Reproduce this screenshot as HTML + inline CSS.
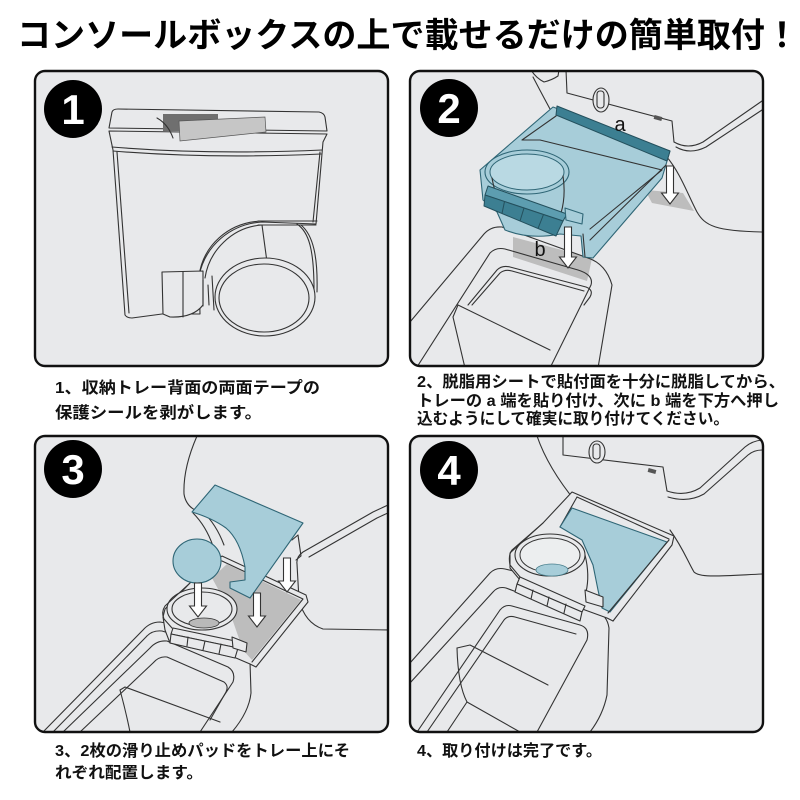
<!DOCTYPE html>
<html><head><meta charset="utf-8">
<style>
html,body{margin:0;padding:0;background:#fff;}
svg{display:block;}
.l{fill:none;stroke:#333;stroke-width:1.1;stroke-linejoin:round;stroke-linecap:round;}
.f{fill:#e8e9eb;stroke:#333;stroke-width:1.1;stroke-linejoin:round;}
.b{fill:#a7cdd9;stroke:#2f6676;stroke-width:1.1;stroke-linejoin:round;}
.bd{fill:#3c7f92;stroke:#24505d;stroke-width:1;stroke-linejoin:round;}
.bt{fill:#5d9db0;stroke:#24505d;stroke-width:1;stroke-linejoin:round;}
.g{fill:#bdbdbd;stroke:none;}
.ar{fill:#fff;stroke:#333;stroke-width:1.1;stroke-linejoin:miter;}
.cap{font-family:"Liberation Sans","Noto Sans CJK JP",sans-serif;font-size:16px;font-weight:bold;fill:#111;}
.num{font-family:"Liberation Sans",sans-serif;font-size:42px;font-weight:bold;fill:#fff;}
</style></head><body>
<svg width="800" height="800" viewBox="0 0 800 800" xmlns="http://www.w3.org/2000/svg">
<defs>
<clipPath id="c1"><rect x="35" y="71" width="353" height="295" rx="10"/></clipPath>
<clipPath id="c2"><rect x="410" y="71" width="353" height="295" rx="10"/></clipPath>
<clipPath id="c3"><rect x="35" y="436" width="353" height="296" rx="10"/></clipPath>
<clipPath id="c4"><rect x="410" y="436" width="353" height="296" rx="10"/></clipPath>
</defs>
<rect width="800" height="800" fill="#fff"/>

<!-- Title -->
<text x="17" y="47" font-family="'Liberation Sans','Noto Sans CJK JP',sans-serif" font-size="34" font-weight="bold" fill="#000" textLength="782" lengthAdjust="spacingAndGlyphs">コンソールボックスの上で載せるだけの簡単取付！</text>

<!-- ========== PANEL 1 ========== -->
<g clip-path="url(#c1)">
<rect x="35" y="71" width="353" height="295" fill="#e8e9eb"/>
<path class="f" d="M109,128 L112,112 Q113,109 118,109 L319,112 Q324,113 325,117 L327,131 Z"/>
<path class="f" d="M109,131 L327,134 L323,142 L316,224 L262,222 C230,224 205,246 199,276 L200,314 L162,314 L132,318 Q127,318 125,315 L113,150 Z"/>
<path class="l" d="M112,147 Q210,155 322,150"/>
<path class="l" d="M113,151 Q210,159 321,154"/>
<path class="l" d="M117,152 L129,313"/>
<path class="l" d="M320,152 L313,222"/>
<path class="l" d="M258,221 L317,221 M258,225 L316,225"/>
<path class="l" d="M199,276 C203,246 228,222 262,221"/>
<path class="l" d="M205,278 C209,251 232,227 262,225"/>
<path class="l" d="M262,225 L267,262"/>
<path class="l" d="M297,224 C309,232 314,250 314,290"/>
<path class="l" d="M301,225 C313,235 318,256 317,292"/>
<ellipse class="f" cx="265" cy="297" rx="50" ry="39"/>
<ellipse class="l" cx="264" cy="298" rx="45" ry="34"/>
<path class="f" d="M162,272 L203,271 L203,305 Q193,318 170,317 L163,314 Z"/>
<path class="l" d="M183,272 L183,317"/>
<path class="l" d="M203,280 L203,306 M208,285 L209,305 M212,276 L214,310"/>
<polygon points="163,114 218,114 218,131 163,131" fill="#6f6f6f"/>
<path d="M179,121 L265,117 L266,132 L180,141 Z" fill="#c6c6c6" stroke="#555" stroke-width="0.7"/>
<path class="l" d="M157,118 Q168,124 173,138" stroke="#555"/>
</g>
<rect x="35" y="71" width="353" height="295" rx="10" fill="none" stroke="#111" stroke-width="2.4"/>
<circle cx="73" cy="109" r="29" fill="#000"/>
<text class="num" x="73" y="124" text-anchor="middle">1</text>

<!-- ========== PANEL 2 ========== -->
<g clip-path="url(#c2)">
<rect x="410" y="71" width="353" height="295" fill="#e8e9eb"/>
<path class="l" d="M531,70 Q536,78 544,82 Q552,80 558,76 L559,70"/>
<path class="l" d="M533,77 Q545,100 556,120"/>
<path class="l" d="M566,70 L567,93 L672,121 L674,142"/>
<path class="l" d="M674,142 Q688,150 703,142 L762,101"/>
<path class="l" d="M676,147 Q690,155 706,147 L762,110"/>
<path class="l" d="M666,156 C680,172 688,195 697,212 C705,226 716,231 762,232"/>
<ellipse class="f" cx="601" cy="100" rx="8" ry="12"/>
<rect class="l" x="597" y="91" width="7" height="17" rx="3"/>
<rect x="654" y="116" width="8" height="4" fill="#555" transform="rotate(15 658 118)"/>
<polygon class="g" points="645,190 683,193 694,211 652,203"/>
<path class="g" d="M513,237 L592,258 Q590,268 587,281 L513,257 Z"/>
<path class="l" d="M410,322 L484,234 Q491,226 502,227 L588,258 Q606,264 612,285 L598,368"/>
<path class="l" d="M417,367 L490,253 Q496,247 505,249 L578,270 Q594,275 591,285 L550,368"/>
<path class="l" d="M468,305 L497,270 Q502,265 510,267 L586,287 Q594,290 590,297 L584,305"/>
<path class="l" d="M472,305 L500,273 Q505,269 512,271 L584,291"/>
<path class="l" d="M458,305 L453,317 L465,368"/>
<path class="l" d="M458,305 L550,350"/>
<!-- tray -->
<path class="b" d="M553,107 L670,151 L662,178 L593,258 L583,257 L581,236 L560,234 Q530,240 505,230 L497,212 L483,200 L480,170 Z"/>
<polygon class="bd" points="557,106 670,151 667,161 556,115"/>
<path class="l" stroke="#2f6676" d="M556,116 L522,140 L540,140 L662,170 L590,229"/>
<path class="l" stroke="#2f6676" d="M666,165 L590,240 M583,234 L585,257"/>
<ellipse class="b" cx="527" cy="172" rx="42" ry="22"/>
<ellipse cx="527" cy="172" rx="37" ry="18" fill="#b9d9e3" stroke="#2f6676" stroke-width="1"/>
<path class="l" stroke="#2f6676" d="M492,178 Q496,200 505,214 M563,176 Q566,196 561,213"/>
<polygon class="bt" points="488,186 567,214 563,221 485,195"/>
<polygon class="bd" points="485,195 563,221 556,236 484,206"/>
<path stroke="#24505d" stroke-width="1" d="M504.5,201.5 L502,213.5 M524,208 L520,221 M543.5,214.5 L538,228.5"/>
<polygon class="b" points="565,208 583,214 582,224 566,220"/>
<path class="ar" d="M666.5,166 h7 V193 h5 L670,204 L661.5,193 h5 Z"/>
<path class="ar" d="M564.5,227 h7 V257 h5 L568,268 L559.5,257 h5 Z"/>
<text x="620" y="131" font-family="'Liberation Sans',sans-serif" font-size="20" fill="#111" text-anchor="middle">a</text>
<text x="540" y="256" font-family="'Liberation Sans',sans-serif" font-size="20" fill="#111" text-anchor="middle">b</text>
</g>
<rect x="410" y="71" width="353" height="295" rx="10" fill="none" stroke="#111" stroke-width="2.4"/>
<circle cx="449" cy="108" r="29" fill="#000"/>
<text class="num" x="449" y="123" text-anchor="middle">2</text>

<!-- ========== PANEL 3 ========== -->
<g clip-path="url(#c3)">
<rect x="35" y="436" width="353" height="296" fill="#e8e9eb"/>
<path class="l" d="M197,436 Q183,468 184,494 Q186,507 199,512"/>
<path class="l" d="M193,513 Q206,526 213,546 L219,558"/>
<path class="l" d="M203,512 Q216,524 224,545"/>
<path class="l" d="M388,505 L373,512 L303,552 Q296,557 297,564 L299,600 Q305,623 323,629 L390,630"/>
<path class="l" d="M390,512 L377,518 L309,557"/>
<path class="l" d="M43,732 L143,630 Q150,622 160,622 L172,624"/>
<path class="l" d="M53,732 L146,637 Q152,630 162,631 L172,634"/>
<path class="l" d="M63,732 L150,648 Q157,640 167,641 L228,667 Q236,672 233,682 L200,732"/>
<path class="l" d="M80,732 L153,663 Q159,656 167,657 L224,682 Q229,686 226,692 L210,720"/>
<path class="l" d="M120,690 L125,687 L220,722"/>
<path class="l" d="M120,690 Q126,712 130,732"/>
<path class="l" d="M250,662 L251,693 Q249,712 232,732"/>
<!-- tray -->
<path class="f" d="M222,556 L306,595 L308,602 L256,667 L250,664 L236,658 L170,643 L165,630 L163,617 L165,609 L190,583 Z"/>
<path class="l" d="M222,561 L303,599 L252,662"/>
<polygon class="g" points="212,578 227,564 301,600 252,660 243,650 236,630 228,607"/>
<path class="l" d="M292,540 L298,535 L301,556 L296,560"/>
<ellipse class="f" cx="202" cy="609" rx="35" ry="21"/>
<ellipse class="l" cx="202" cy="609" rx="30" ry="17"/>
<ellipse cx="204" cy="623" rx="15" ry="5" fill="#b9b9b9" stroke="#333" stroke-width="0.8"/>
<path class="l" d="M190,583 L165,606 Q161,612 164,619 L172,628"/>
<polygon class="f" points="173,628 240,642 238,648 171,634"/>
<polygon class="f" points="171,634 238,648 235,658 170,643"/>
<path class="l" d="M188,637 L187,646 M205,641 L203,650 M221,644 L219,654"/>
<polygon class="f" points="232,637 247,643 246,652 233,648"/>
<ellipse class="b" cx="197" cy="561" rx="24" ry="22" stroke="#4a7f8d"/>
<path class="b" stroke="#4a7f8d" d="M215,485 L303,523 L250,598 L230,588 L230,582 L245,580 L245,567 Q240,540 226,528 Q212,518 192,512 Z"/>
<path class="ar" d="M194.5,583 h7 V606 h5 L198,617 L189.5,606 h5 Z"/>
<path class="ar" d="M253.5,593 h7 V616 h5 L257,627 L248.5,616 h5 Z"/>
<path class="ar" d="M283.5,558 h7 V581 h5 L287,592 L278.5,581 h5 Z"/>
</g>
<rect x="35" y="436" width="353" height="296" rx="10" fill="none" stroke="#111" stroke-width="2.4"/>
<circle cx="73" cy="469" r="29" fill="#000"/>
<text class="num" x="73" y="484" text-anchor="middle">3</text>

<!-- ========== PANEL 4 ========== -->
<g clip-path="url(#c4)">
<rect x="410" y="436" width="353" height="296" fill="#e8e9eb"/>
<path class="l" d="M537,436 Q548,468 576,502"/>
<path class="l" d="M563,436 L563,455 L663,467 L667,491"/>
<path class="l" d="M667,491 Q685,497 700,488 L745,447 Q752,441 762,440"/>
<path class="l" d="M668,497 Q688,503 704,494 L748,455 Q754,450 762,450"/>
<path class="l" d="M670,530 C683,548 688,562 694,572 C700,578 720,576 762,574"/>
<ellipse class="f" cx="597" cy="452" rx="8" ry="11"/>
<rect class="l" x="593" y="444" width="7" height="15" rx="3"/>
<rect x="648" y="469" width="8" height="4" fill="#555" transform="rotate(15 652 471)"/>
<path class="l" d="M410,663 L490,573 Q496,567 505,569 L522,573"/>
<path class="l" d="M410,683 L493,592 Q498,586 506,588 L522,594"/>
<path class="l" d="M596,611 Q607,615 609,628 L607,695 Q603,715 590,732"/>
<path class="l" d="M417,732 L500,610 Q505,604 512,606 L580,625 Q590,628 587,640 L537,732"/>
<path class="l" d="M427,732 L504,620 Q508,615 515,617 L576,634"/>
<path class="l" d="M457,648 L470,645 L548,685"/>
<path class="l" d="M457,648 Q458,685 467,702 L447,732"/>
<path class="l" d="M467,702 L520,732"/>
<path class="l" d="M613,621 L630,597"/>
<!-- tray -->
<path class="f" d="M572,492 L674,536 L672,545 L613,621 L607,618 L585,610 L520,580 L510,568 L510,553 L543,523 Z"/>
<path class="l" d="M577,497 L669,539 M577,497 L560,527"/>
<polygon class="b" points="572,508 667,542 610,612 602,608 598,590 593,565 582,540 560,527"/>
<path class="l" d="M669,540 L608,613"/>
<ellipse class="f" cx="550" cy="555" rx="35" ry="21"/>
<ellipse cx="550" cy="555" rx="30" ry="17" fill="#eceeef" stroke="#333" stroke-width="1"/>
<ellipse cx="552" cy="570" rx="16" ry="6" fill="#a7cdd9" stroke="#4a7f8d" stroke-width="0.8"/>
<path class="l" d="M543,523 L512,550 Q508,555 510,565 L520,577"/>
<path class="l" d="M585,555 Q590,575 586,592"/>
<polygon class="f" points="520,577 585,606 582,612 517,584"/>
<polygon class="f" points="517,584 582,612 580,621 515,592"/>
<path class="l" d="M533,590 L531,599 M549,597 L547,606 M566,604 L564,613"/>
<polygon class="f" points="585,590 603,597 603,607 586,602"/>
</g>
<rect x="410" y="436" width="353" height="296" rx="10" fill="none" stroke="#111" stroke-width="2.4"/>
<circle cx="449" cy="470" r="29" fill="#000"/>
<text class="num" x="449" y="485" text-anchor="middle">4</text>

<!-- Captions -->
<text class="cap" x="55" y="393" textLength="265" lengthAdjust="spacingAndGlyphs">1、収納トレー背面の両面テープの</text>
<text class="cap" x="55" y="418" textLength="207" lengthAdjust="spacingAndGlyphs">保護シールを剥がします。</text>

<text class="cap" x="417" y="387" textLength="368" lengthAdjust="spacingAndGlyphs">2、脱脂用シートで貼付面を十分に脱脂してから、</text>
<text class="cap" x="417" y="406" textLength="362" lengthAdjust="spacingAndGlyphs">トレーの a 端を貼り付け、次に b 端を下方へ押し</text>
<text class="cap" x="417" y="424" textLength="312" lengthAdjust="spacingAndGlyphs">込むようにして確実に取り付けてください。</text>

<text class="cap" x="55" y="756" textLength="295" lengthAdjust="spacingAndGlyphs">3、2枚の滑り止めパッドをトレー上にそ</text>
<text class="cap" x="55" y="778" textLength="148" lengthAdjust="spacingAndGlyphs">れぞれ配置します。</text>

<text class="cap" x="417" y="756" textLength="185" lengthAdjust="spacingAndGlyphs">4、取り付けは完了です。</text>
</svg>
</body></html>
